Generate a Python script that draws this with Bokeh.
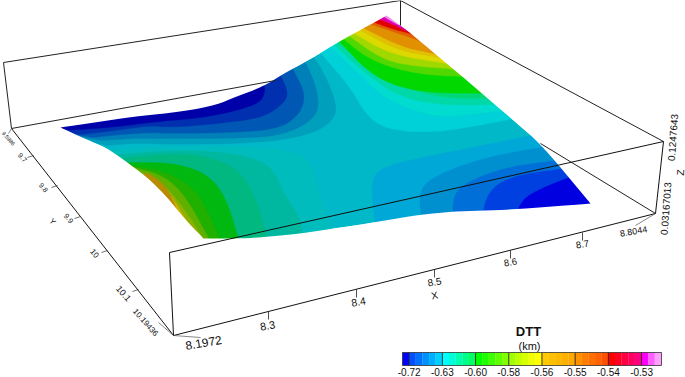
from bokeh.plotting import figure
from bokeh.embed import file_html
from bokeh.resources import INLINE
from bokeh.models import Range1d
from bokeh.core.properties import value

# ---- colour bar ----
legend_colors = ["#0000ff", "#0050ff", "#0070ff", "#0090ff", "#00b0ff", "#00d0ff",
                 "#00ffff", "#00ffd8", "#00ffb0", "#00ff88", "#00ff60",
                 "#00ff00", "#20ff00", "#40ff00", "#60ff00", "#80ff00",
                 "#a0ff00", "#c0ff00", "#d8ff00", "#f0ff00", "#ffff00",
                 "#ffc800", "#ffc000", "#ffb800", "#ffb000", "#ffa800",
                 "#ff9000", "#ff8000", "#ff7000", "#ff6000", "#ff5000",
                 "#ff0000", "#ff0020", "#ff0040", "#ff0060", "#ff0080",
                 "#ff00ff", "#ff60ff", "#ffa0ff"]
legend_labels = ["-0.72", "-0.63", "-0.60", "-0.58", "-0.56", "-0.55", "-0.54", "-0.53"]

# ---- surface outline, corner to corner ----
edge_top_left = [(60,127),(133,116),(183,111),(217,104),(233,97),(263,86),(283,73),(308,60),(337,42),(370,24),(386,15)]
edge_top_right = [(386,15),(407,30),(427,47),(470,83),(513,120),(540,143),(590,203)]
edge_bottom = [(590,203),(513,209),(480,210),(453,211),(420,214),(373,222),(340,227),(300,233),(260,237),(235,238),(203,238)]
edge_left = [(203,238),(183,217),(167,197),(147,177),(127,162),(107,148),(93,142),(60,127)]
saddle_color = "#00b8c8"

# contour lines of DTT (px traced): low values along the upper-left edge
low_left_colors = ["#00a0bc", "#0080b8", "#0058b4", "#0030b0", "#0000a8"]
low_left_1 = [(107,145),(130,143),(150,143),(170,144),(253,143),(310,135),(337,117),(333,93),(317,60),(305,50)]
low_left_2 = [(100,140),(130,138),(150,138),(170,138),(237,138),(283,135),(317,117),(318,93),(307,65),(298,50)]
low_left_3 = [(93,137),(120,134),(150,132),(170,133),(237,132),(280,128),(300,113),(305,93),(293,70),(285,55)]
low_left_4 = [(80,134),(115,130),(150,125),(170,127),(220,123),(263,117),(283,103),(288,93),(280,74),(272,60)]
low_left_5 = [(65,130),(110,127),(150,122),(170,120),(203,117),(237,110),(260,102),(265,90),(263,84),(258,70)]

# higher values along the lower-left edge
high_left_colors = ["#00bcbc", "#00b8a0", "#00b880", "#00b810", "#20b000", "#60b000",
                    "#90b000", "#b8b000", "#c8b400", "#b88c00"]
high_left_1 = [(112,150),(140,147),(170,147),(257,146),(303,153),(313,170),(318,193),(327,215),(337,240)]
high_left_2 = [(118,154),(170,150),(220,151),(263,160),(277,177),(283,193),(300,217),(303,245)]
high_left_3 = [(122,158),(170,153),(203,155),(237,167),(257,200),(268,245)]
high_left_4 = [(127,162),(170,162),(205,172),(225,195),(240,245)]
high_left_5 = [(130,165),(163,170),(190,185),(205,205),(222,245)]
high_left_6 = [(137,168),(163,175),(185,195),(212,245)]
high_left_7 = [(143,173),(165,185),(185,210),(207,245)]
high_left_8 = [(150,178),(170,197),(190,225),(198,245)]
high_left_9 = [(152,178),(168,190),(180,210),(192,232),(192,245)]
high_left_10 = [(146,172),(162,182),(172,197),(178,215)]

# lobes of low values near the right corner
low_right_colors = ["#00a8d8", "#0090d0", "#0070d8", "#0040e0", "#0000e0"]
low_right_1 = [(536,134),(457,150),(383,165),(370,180),(375,225)]
low_right_2 = [(546,146),(483,157),(430,177),(418,193),(422,225)]
low_right_3 = [(556,160),(503,167),(463,183),(452,197),(453,225)]
low_right_4 = [(564,168),(513,175),(487,190),(480,225)]
low_right_5 = [(574,175),(540,188),(520,200),(513,225)]

# high values towards the top corner
high_top_colors = ["#00d0d8", "#00dcd0", "#00d8a8", "#00d878", "#00d800", "#50d800",
                   "#a0d800", "#dcd800", "#e0c000", "#e09000", "#e06000", "#e00000",
                   "#e000b0", "#f090f0"]
high_top_1 = [(318,50),(350,87),(367,117),(390,130),(433,132),(467,127),(515,118)]
high_top_2 = [(328,44),(360,75),(387,100),(433,117),(477,113),(505,110)]
high_top_3 = [(331,42),(367,75),(400,97),(443,105),(497,104)]
high_top_4 = [(334,40),(377,73),(410,90),(450,98),(492,98)]
high_top_5 = [(336,38),(373,77),(417,92),(482,93)]
high_top_6 = [(340,36),(367,58),(400,70),(433,75),(462,76)]
high_top_7 = [(345,33),(383,60),(417,66),(447,68)]
high_top_8 = [(350,31),(390,54),(440,62)]
high_top_9 = [(357,28),(397,50),(433,56)]
high_top_10 = [(360,26),(400,46),(428,52)]
high_top_11 = [(365,22),(410,37),(418,40)]
high_top_12 = [(369,20),(390,28),(409,33)]
high_top_13 = [(374,17),(393,24),(405,30)]
high_top_14 = [(380,14),(388,19),(397,24)]

# ---- axis box edges ----
box_back_x0 = [3, 400, 3, 11, 400, 540]
box_back_y0 = [62, 0, 62, 128, 0, 143]
box_back_x1 = [400, 663, 11, 275, 400, 655]
box_back_y1 = [0, 141, 128, 80, 25, 213]
box_front_x0 = [169, 169, 663, 173, 11]
box_front_y0 = [252, 252, 141, 335, 128]
box_front_x1 = [663, 173, 655, 655, 173]
box_front_y1 = [141, 335, 213, 213, 335]

# ---- axis labels and ticks ----
x_tick_labels = ["8.1972", "8.3", "8.4", "8.5", "8.6", "8.7", "8.8044"]
x_label_x = [203, 267, 358, 434, 510, 582, 633]
x_label_y = [342, 325, 301, 281, 262, 244, 231]
x_label_size = ["12px", "11px", "10.5px", "10px", "9.5px", "9.5px", "9px"]
x_tick_x0 = [268, 356, 434, 510, 582]
x_tick_y0 = [311, 289, 269, 250, 232]
y_tick_labels = ["9.5986", "9.7", "9.8", "9.9", "10", "10.1", "10.19436"]
y_label_x = [8, 22, 43, 68, 94, 123, 145]
y_label_y = [138, 157, 187, 218, 253, 293, 322]
y_label_size = ["5.5px", "7px", "7px", "7.5px", "8px", "9px", "8px"]
y_tick_x0 = [33, 57, 80, 107, 138]
y_tick_y0 = [155, 185, 216, 250, 289]
z_tick_labels = ["0.1247643", "0.03167013"]
z_label_x = [672, 665]
z_label_y = [137, 208]
leader_x0 = [173, 173, 655, 11]
leader_y0 = [335, 335, 213, 128]
leader_x1 = [200, 158, 635, 8]
leader_y1 = [337, 322, 225, 133]

p = figure(width=685, height=377, x_range=Range1d(0, 685), y_range=Range1d(377, 0),
           output_backend="svg", toolbar_location=None, min_border=0,
           margin=(0, 0, 0, 0), background_fill_color="white", border_fill_color="white")
p.axis.visible = False
p.grid.visible = False
p.outline_line_color = None

FONT = value("Liberation Sans")
INK = "#111111"


def rounded(points, rounds=3):
    """Cut the corners of a traced polyline; its two ends stay where they are."""
    for _ in range(rounds):
        out = [points[0]]
        for a, b in zip(points[:-1], points[1:]):
            out.append((0.75 * a[0] + 0.25 * b[0], 0.75 * a[1] + 0.25 * b[1]))
            out.append((0.25 * a[0] + 0.75 * b[0], 0.25 * a[1] + 0.75 * b[1]))
        out.append(points[-1])
        points = out
    return points


def fill(points, color):
    p.patch([q[0] for q in points], [q[1] for q in points], fill_color=color,
            line_color=color, line_width=0.3)


def label(x, y, text, size, angle=0.0, style="normal"):
    p.text([x], [y], text=[text], angle=angle, text_font=FONT, text_font_size=value(size),
           text_font_style=style, text_align="center", text_baseline="middle", text_color=INK)


outline = (rounded(edge_top_left, 2)[:-1] + rounded(edge_top_right, 2)[:-1]
           + rounded(edge_bottom, 2)[:-1] + rounded(edge_left, 2)[:-1])

# base sheet
fill(outline, saddle_color)

top_cap = [(640, 100), (420, 5), (290, 5)]
for c, b in zip(high_top_colors, [high_top_1, high_top_2, high_top_3, high_top_4, high_top_5,
                                  high_top_6, high_top_7, high_top_8, high_top_9, high_top_10,
                                  high_top_11, high_top_12, high_top_13, high_top_14]):
    fill(rounded(b) + top_cap, c)

right_cap = [(650, 260), (650, 120)]
for c, b in zip(low_right_colors, [low_right_1, low_right_2, low_right_3, low_right_4, low_right_5]):
    fill(rounded(b) + right_cap, c)

up_cap = [(250, 10), (20, 90), (40, 130)]
for c, b in zip(low_left_colors, [low_left_1, low_left_2, low_left_3, low_left_4, low_left_5]):
    fill(rounded(b) + up_cap, c)

down_cap = [(60, 270), (60, 150)]
for c, b in zip(high_left_colors, [high_left_1, high_left_2, high_left_3, high_left_4, high_left_5,
                                   high_left_6, high_left_7, high_left_8, high_left_9]):
    fill(rounded(b) + down_cap, c)
fill(rounded(high_left_10) + [(120, 200)], high_left_colors[9])

# everything outside the surface outline is white paper
sheet = [-80, 770, 770, -80], [-80, -80, 460, 460]
p.multi_polygons(xs=[[[sheet[0], [q[0] for q in outline]]]],
                 ys=[[[sheet[1], [q[1] for q in outline]]]],
                 fill_color="white", line_color=None)

# box
p.segment(box_back_x0, box_back_y0, box_back_x1, box_back_y1, line_color="#222222", line_width=1)
p.segment(box_front_x0, box_front_y0, box_front_x1, box_front_y1, line_color=INK, line_width=1)
p.segment(leader_x0, leader_y0, leader_x1, leader_y1, line_color="#555555", line_width=0.7)
p.segment(x_tick_x0, x_tick_y0, x_tick_x0, [v + 8 for v in x_tick_y0], line_color="#222222", line_width=0.8)
p.segment(y_tick_x0, y_tick_y0, [v - 6 for v in y_tick_x0], [v + 2 for v in y_tick_y0],
          line_color="#333333", line_width=0.7)

for x, y, t, s in zip(x_label_x, x_label_y, x_tick_labels, x_label_size):
    label(x, y, t, s, angle=0.17)
label(434, 295, "X", "10px", angle=0.2)
for x, y, t, s in zip(y_label_x, y_label_y, y_tick_labels, y_label_size):
    label(x, y, t, s, angle=-0.85)
label(52, 221, "Y", "8px", angle=-0.85)
for x, y, t in zip(z_label_x, z_label_y, z_tick_labels):
    label(x, y, t, "10px", angle=1.5)
label(680, 172, "Z", "10px", angle=1.5)

# colour bar, drawn with data-unit cells
bar_left, bar_right, bar_top, bar_bottom = 402.0, 661.0, 352.0, 365.0
cell = (bar_right - bar_left) / len(legend_colors)
edges = [bar_left + i * cell for i in range(len(legend_colors) + 1)]
p.quad(left=edges[:-1], right=edges[1:], top=[bar_top] * len(legend_colors),
       bottom=[bar_bottom] * len(legend_colors), fill_color=legend_colors,
       line_color=legend_colors, line_width=0.2)
major = [edges[1 + 5 * i] for i in range(len(legend_labels))]
p.segment(major, [bar_top] * len(major), major, [bar_bottom] * len(major),
          line_color="#222222", line_width=0.9)
p.quad(left=[bar_left], right=[bar_right], top=[bar_top], bottom=[bar_bottom],
       fill_color=None, line_color="#333333", line_width=0.8)
for x, t in zip(major, legend_labels):
    label(x, 371, t, "10px")
label(528, 331, "DTT", "13px", style="bold")
label(529, 345, "(km)", "11px")

open("out.html", "w").write(file_html(p, INLINE))
